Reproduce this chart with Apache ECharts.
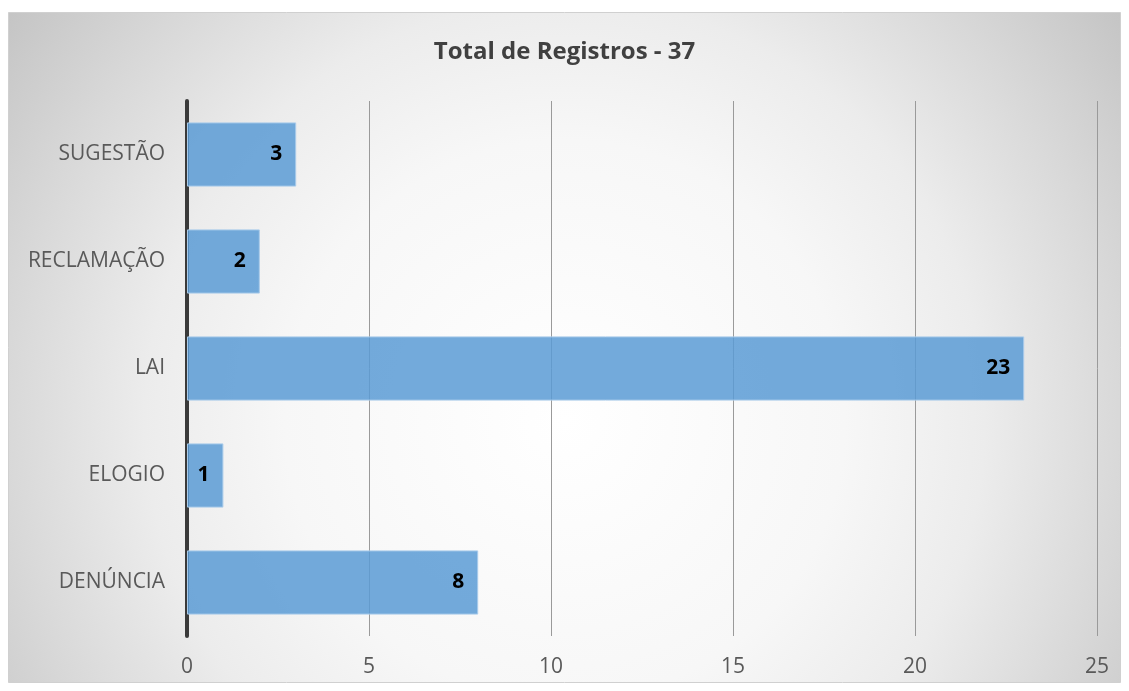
<!DOCTYPE html>
<html>
<head>
<meta charset="utf-8">
<script src="https://cdn.jsdelivr.net/npm/echarts@6/dist/echarts.min.js"></script>
<style>
  html, body { margin: 0; padding: 0; background: #fff; }
  #chart { width: 1129px; height: 691px; }
</style>
</head>
<body>
<div id="chart"></div>
<script>
var categories = ["DENÚNCIA", "ELOGIO", "LAI", "RECLAMAÇÃO", "SUGESTÃO"];
var values = [8, 1, 23, 2, 3];
var titleText = "Total de Registros - 37";

var myChart = echarts.init(document.getElementById("chart"));

myChart.setOption({
  textStyle: { fontFamily: "Open Sans" },
  graphic: [
    {
      type: "rect",
      z: -10,
      silent: true,
      shape: { x: 8.5, y: 12.5, width: 1112, height: 670 },
      style: {
        // fundo com degradê radial (centro claro, cantos cinza)
        fill: new echarts.graphic.RadialGradient(565, 420, 700, [
          { offset: 0, color: "#ffffff" },
          { offset: 0.4, color: "#f7f7f7" },
          { offset: 0.6, color: "#ececec" },
          { offset: 0.8, color: "#d8d8d8" },
          { offset: 1, color: "#c3c3c3" }
        ], true),
        stroke: "#d0d0d0",
        lineWidth: 1
      }
    }
  ],
  title: {
    text: titleText,
    left: "center",
    top: 35,
    textStyle: {
      fontFamily: "Open Sans",
      fontSize: 24,
      fontWeight: "bold",
      color: "#404040"
    }
  },
  grid: {
    left: 187,
    right: 32,
    top: 101,
    bottom: 55,
    containLabel: false
  },
  xAxis: {
    type: "value",
    min: 0,
    max: 25,
    interval: 5,
    axisLine: { show: false },
    axisTick: { show: false },
    axisLabel: {
      color: "#595959",
      fontSize: 21,
      margin: 21
    },
    splitLine: {
      show: true,
      lineStyle: { color: "#9a9a9a", width: 1 }
    }
  },
  yAxis: {
    type: "category",
    data: categories,
    axisLine: {
      show: true,
      lineStyle: { color: "#3a3a3a", width: 4 }
    },
    axisTick: { show: false },
    axisLabel: {
      color: "#595959",
      fontSize: 21,
      margin: 22
    }
  },
  series: [
    {
      type: "bar",
      data: values,
      barCategoryGap: "40%",
      itemStyle: {
        color: "rgba(91,155,213,0.85)",
        borderColor: "#a9cbea",
        borderWidth: 1
      },
      label: {
        show: true,
        position: "insideRight",
        distance: 14,
        color: "#000000",
        fontSize: 21,
        fontWeight: "bold",
        fontFamily: "Open Sans"
      }
    }
  ]
});
</script>
</body>
</html>
